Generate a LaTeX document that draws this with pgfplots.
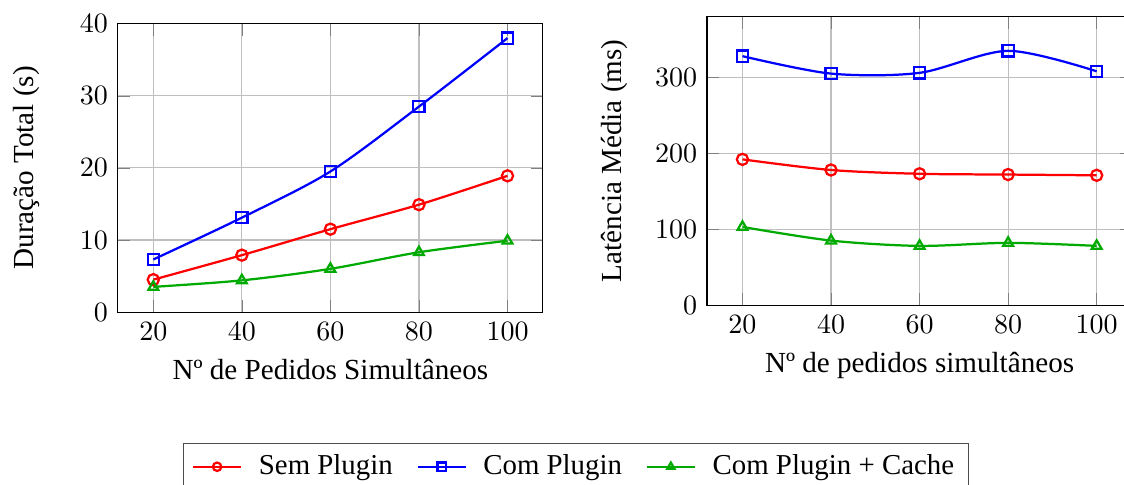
\documentclass[border=0pt]{standalone}
\usepackage{fontspec}
\setmainfont{Liberation Serif}
\usepackage{pgfplots}
\pgfplotsset{compat=1.18}
\definecolor{mygreen}{RGB}{0,170,0}
\begin{document}
\begin{tikzpicture}
\useasboundingbox (0,0) rectangle (401.4pt,172.86pt);
\clip (0,0) rectangle (401.4pt,172.86pt);
\pgfplotsset{
  every axis/.append style={
    scale only axis, width=151.8pt, height=103pt,
    grid=major, xmin=12, xmax=108, xtick={20,40,60,80,100},
    ymin=0, anchor=south west,
    every axis plot/.append style={thick, smooth},
    label style={font=\fontsize{10.4}{12}\selectfont},
    tick label style={font=\fontsize{10}{12}\selectfont},
  }
}
\begin{axis}[
  at={(42.1pt,61.4pt)},
  ymax=40, ytick={0,10,20,30,40},
  xlabel={Nº de Pedidos Simultâneos},
  ylabel={Duração Total (s)},
  ylabel shift=7.5pt,
  legend columns=3,
  legend style={at={(0.1535,-0.4535)}, anchor=north west, draw=black!70,
    font=\fontsize{10.3}{12}\selectfont,
    /tikz/every odd column/.append style={column sep=4pt},
    /tikz/every even column/.append style={column sep=6.5pt}},
  legend image post style={mark size=1.5pt},
  legend cell align=left,
]
\addplot[red, mark=o] coordinates {(20,4.5) (40,7.9) (60,11.5) (80,14.9) (100,18.9)};
\addlegendentry{Sem Plugin}
\addplot[blue, mark=square] coordinates {(20,7.3) (40,13.1) (60,19.5) (80,28.5) (100,38.0)};
\addlegendentry{Com Plugin}
\addplot[mygreen, mark=triangle] coordinates {(20,3.5) (40,4.4) (60,6.0) (80,8.3) (100,9.9)};
\addlegendentry{Com Plugin + Cache}
\end{axis}
\begin{axis}[
  at={(252.5pt,63.9pt)},
  ymax=380, ytick={0,100,200,300},
  xlabel={Nº de pedidos simultâneos},
  ylabel={Latência Média (ms)},
  ylabel shift=3pt,
]
\addplot[red, mark=o] coordinates {(20,192) (40,178) (60,173) (80,172) (100,171)};
\addplot[blue, mark=square] coordinates {(20,328) (40,305) (60,306) (80,335) (100,308)};
\addplot[mygreen, mark=triangle] coordinates {(20,103) (40,85) (60,78) (80,82) (100,78)};
\end{axis}
\end{tikzpicture}
\end{document}
